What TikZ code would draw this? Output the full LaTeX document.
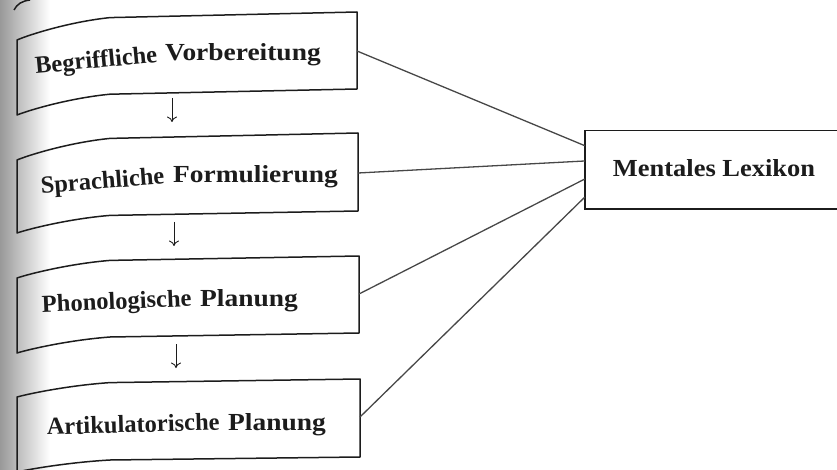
\documentclass[tikz,border=0pt]{standalone}
\usepackage{fontspec}
\setmainfont{Liberation Serif}
\newfontfamily\leadfont{Liberation Serif}
\newfontfamily\widefont[FakeStretch=1.12]{Liberation Serif}
\newfontfamily\lexfont[FakeStretch=1.08]{Liberation Serif}
\usetikzlibrary{arrows.meta,calc}
\definecolor{ink}{HTML}{1C1C1C}
\definecolor{wire}{HTML}{474747}

% Stage frame whose left end bends with the page near the binding.
% #1 right x, #2 top-left y, #3 top-right y, #4 bottom-right y, #5 bottom-left y
\newcommand\bentframe[5]{%
  \draw[frame] (#1,#3) -- (110,{#3+0.2*(#2-#3)})
    .. controls (70,{#3+0.35*(#2-#3)}) and (30,{#2-0.2*(#2-#3)}) .. (17,#2)
    -- (17,#5)
    .. controls (30,{#5-0.2*(#5-#4)}) and (70,{#4+0.35*(#5-#4)}) .. (110,{#4+0.2*(#5-#4)})
    -- (#1,#4) -- cycle;}

\begin{document}
\begin{tikzpicture}[x=1pt,y=-1pt,
  frame/.style={draw=ink,line width=1.5pt,line join=round},
  leadword/.style={anchor=base east,inner sep=0pt,text=ink,
    font=\leadfont\bfseries\fontsize{24.5}{28}\selectfont},
  restword/.style={anchor=base west,inner sep=0pt,text=ink,
    font=\widefont\bfseries\fontsize{24.5}{28}\selectfont},
  lexarea/.style={minimum width=300pt,minimum height=78pt,inner sep=0pt},
  lexline/.style={draw=ink,line width=1.4pt,line join=miter},
  lexlabel/.style={anchor=base,inner sep=0pt,text=ink,
    font=\lexfont\bfseries\fontsize{24.5}{28}\selectfont},
  link/.style={draw=wire,line width=1.3pt},
  flow/.style={draw=ink,line width=0.9pt,-{To[length=5.5pt,width=10pt]}}]

\useasboundingbox (0,0) rectangle (837,470);

% shadow of the book binding
\shade[left color=black!40,right color=white] (0,0) rectangle (50,470);

% edge of a frame above
\draw[frame] (14,10) .. controls (17,4) and (22,1) .. (30,0);

% stage frames
\bentframe{357}{40}{12}{89}{115}
\bentframe{358}{160}{133}{211}{233}
\bentframe{359}{278}{256}{333}{353}
\bentframe{360}{397}{379}{457}{472}

% stage labels: the first word follows the bend of the page
\node[leadword,rotate=5.5] (b1a) at (158,62) {Begriffliche};
\node[restword] (b1b) at (165,61) {Vorbereitung};
\node[leadword,rotate=4.3] (b2a) at (165,184) {Sprachliche};
\node[restword] (b2b) at (173,183) {Formulierung};
\node[leadword,rotate=2.4] (b3a) at (192,306) {Phonologische};
\node[restword] (b3b) at (200,306) {Planung};
\node[leadword,rotate=1.6] (b4a) at (220,430) {Artikulatorische};
\node[restword] (b4b) at (228,430) {Planung};

% lexicon: its frame runs on to the right margin
\node[lexarea] (lex) at (735,170) {};
\draw[lexline] ($(lex.north west)+(252,0)$) -- (lex.north west) -- (lex.south west) -- ($(lex.south west)+(252,0)$);
\node[lexlabel] (lexlabel) at (714,177) {Mentales Lexikon};

% right edges of the stage frames
\coordinate (b1r) at (357,51);
\coordinate (b2r) at (358,173);
\coordinate (b3r) at (359,294);
\coordinate (b4r) at (360,417);

% links to the lexicon
\draw[link] (b1r) -- ($(lex.north west)!0.19!(lex.south west)$);
\draw[link] (b2r) -- ($(lex.north west)!0.385!(lex.south west)$);
\draw[link] (b3r) -- ($(lex.north west)!0.615!(lex.south west)$);
\draw[link] (b4r) -- ($(lex.north west)!0.846!(lex.south west)$);

% sequence arrows between stages
\coordinate (a1s) at (172,98);  \coordinate (a1e) at (172,122);
\coordinate (a2s) at (174,222); \coordinate (a2e) at (174,246);
\coordinate (a3s) at (176,344); \coordinate (a3e) at (176,368);
\draw[flow] (a1s) -- (a1e);
\draw[flow] (a2s) -- (a2e);
\draw[flow] (a3s) -- (a3e);
\end{tikzpicture}
\end{document}
